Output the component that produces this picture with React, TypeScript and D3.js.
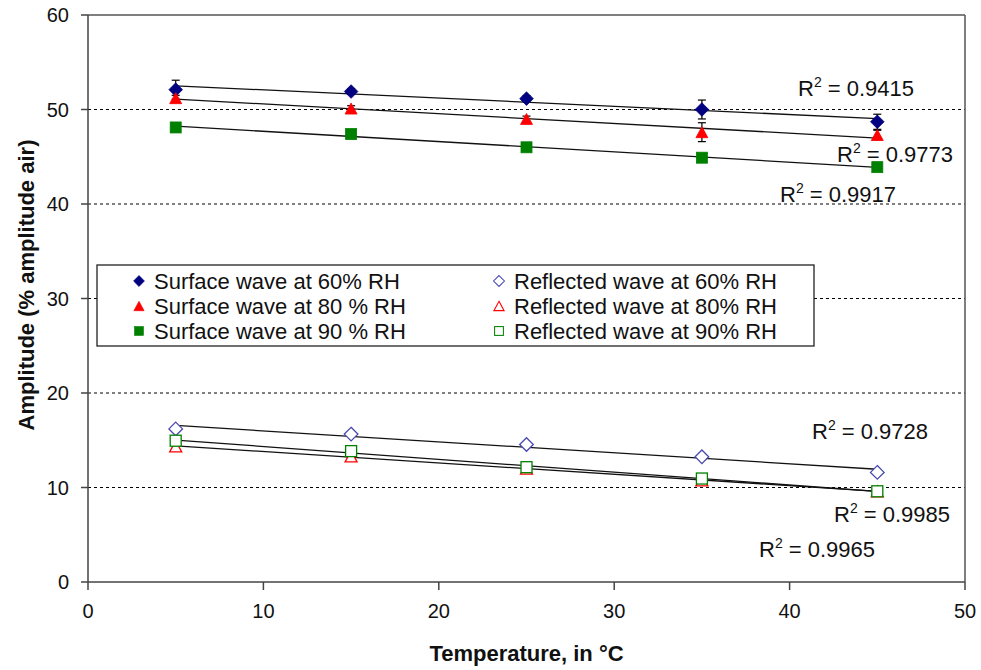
import React from "react";
import * as d3 from "d3";

const temps = [5, 15, 25, 35, 45];
const surface60 = [52.1, 51.9, 51.15, 50.0, 48.7];
const surface60Err = [1.0, 0.3, 0.3, 1.0, 0.8];
const surface80 = [51.2, 50.1, 49.0, 47.6, 47.3];
const surface80Err = [0.3, 0.3, 0.3, 1.0, 0.5];
const surface90 = [48.1, 47.4, 46.0, 44.9, 43.9];
const reflected60 = [16.2, 15.65, 14.55, 13.25, 11.6];
const reflected80 = [14.35, 13.3, 12.0, 10.75, 9.6];
const reflected90 = [14.95, 13.85, 12.15, 10.95, 9.6];
const xTicks = [0, 10, 20, 30, 40, 50];
const yTicks = [0, 10, 20, 30, 40, 50, 60];
const gridTicks = [10, 20, 30, 40, 50];
const r2Labels = ["0.9415", "0.9773", "0.9917", "0.9728", "0.9985", "0.9965"];
const legendLabels = [
  "Surface wave at 60% RH",
  "Surface wave at 80 % RH",
  "Surface wave at 90 % RH",
  "Reflected wave at 60% RH",
  "Reflected wave at 80% RH",
  "Reflected wave at 90% RH",
];

const FONT = "'Liberation Sans', Arial, sans-serif";
const NAVY = "#000080";
const RED = "#ff0000";
const GREEN = "#008000";
const HOLLOW_BLUE = "#4848b0";

type Shape = "diamond" | "triangle" | "square";

function Marker({ x, y, shape, color, filled }: { x: number; y: number; shape: Shape; color: string; filled: boolean }) {
  const fill = filled ? color : "white";
  const sw = filled ? 0.8 : 1.3;
  if (shape === "diamond") {
    const r = 6.8;
    return <path d={`M${x},${y - r}L${x + r},${y}L${x},${y + r}L${x - r},${y}Z`} fill={fill} stroke={color} strokeWidth={sw} />;
  }
  if (shape === "triangle") {
    const h = 11, w = 12;
    return <path d={`M${x},${y - h / 2}L${x + w / 2},${y + h / 2}L${x - w / 2},${y + h / 2}Z`} fill={fill} stroke={color} strokeWidth={sw} />;
  }
  const s = 11;
  return <rect x={x - s / 2} y={y - s / 2} width={s} height={s} fill={fill} stroke={color} strokeWidth={sw} />;
}

function linFit(xs: number[], ys: number[]) {
  const mx = d3.mean(xs)!;
  const my = d3.mean(ys)!;
  let num = 0, den = 0;
  xs.forEach((x, i) => { num += (x - mx) * (ys[i] - my); den += (x - mx) ** 2; });
  const b = num / den;
  const a = my - b * mx;
  return (x: number) => a + b * x;
}

export default function App() {
  const W = 981, H = 670;
  const left = 88, right = 965, top = 15, bottom = 582;
  const x = d3.scaleLinear().domain([0, 50]).range([left, right]);
  const y = d3.scaleLinear().domain([0, 60]).range([bottom, top]);

  const series = [
    { vals: surface60, err: surface60Err, shape: "diamond" as Shape, color: NAVY, filled: true },
    { vals: surface80, err: surface80Err, shape: "triangle" as Shape, color: RED, filled: true },
    { vals: surface90, err: null, shape: "square" as Shape, color: GREEN, filled: true },
    { vals: reflected60, err: null, shape: "diamond" as Shape, color: HOLLOW_BLUE, filled: false },
    { vals: reflected80, err: null, shape: "triangle" as Shape, color: RED, filled: false },
    { vals: reflected90, err: null, shape: "square" as Shape, color: GREEN, filled: false },
  ];

  const line = d3.line<[number, number]>().x(d => x(d[0])).y(d => y(d[1]));

  const r2Pos = [
    [798, 96], [837, 162], [780, 202], [812, 439], [834, 522], [759, 557],
  ];

  const legendX = [97, 814];
  const legendY = [265, 346];
  const colX = [139, 499];
  const rowY = [281, 306, 331];

  return (
    <svg width={W} height={H} style={{ position: "absolute", left: 0, top: 0, background: "white" }} fontFamily={FONT}>
      <rect x={0} y={0} width={W} height={H} fill="white" />
      {gridTicks.map(t => (
        <line key={t} x1={left} x2={right} y1={y(t)} y2={y(t)} stroke="#000" strokeWidth={1} strokeDasharray="3,3" />
      ))}
      <line x1={left} x2={right} y1={top} y2={top} stroke="#555" strokeWidth={1.5} />
      <line x1={right} x2={right} y1={top} y2={bottom} stroke="#555" strokeWidth={1.5} />
      <line x1={left} x2={left} y1={top} y2={bottom} stroke="#444" strokeWidth={1.5} />
      <line x1={left} x2={right} y1={bottom} y2={bottom} stroke="#444" strokeWidth={1.5} />
      {yTicks.map(t => (
        <g key={t}>
          <line x1={left - 7} x2={left} y1={y(t)} y2={y(t)} stroke="#444" strokeWidth={1.5} />
          <text x={left - 19} y={y(t)} dy="0.36em" textAnchor="end" fontSize={20} fill="#111">{t}</text>
        </g>
      ))}
      {xTicks.map(t => (
        <g key={t}>
          <line x1={x(t)} x2={x(t)} y1={bottom} y2={bottom + 8} stroke="#444" strokeWidth={1.5} />
          <text x={x(t)} y={618} textAnchor="middle" fontSize={20} fill="#111">{t}</text>
        </g>
      ))}
      <text x={x(25)} y={661} textAnchor="middle" fontSize={22} fontWeight="bold" fill="#111">Temperature, in °C</text>
      <text transform={`translate(34, 285) rotate(-90)`} textAnchor="middle" fontSize={22} fontWeight="bold" fill="#111">Amplitude (% amplitude air)</text>

      {series.map((s, i) => {
        const f = linFit(temps, s.vals);
        const pts: [number, number][] = [[temps[0], f(temps[0])], [temps[temps.length - 1], f(temps[temps.length - 1])]];
        return <path key={"t" + i} d={line(pts)!} stroke="#111" strokeWidth={1.3} fill="none" />;
      })}

      {series.map((s, i) => s.err ? s.err.map((e, j) => (
        <g key={`e${i}-${j}`} stroke="#000" strokeWidth={1.2}>
          <line x1={x(temps[j])} x2={x(temps[j])} y1={y(s.vals[j] - e)} y2={y(s.vals[j] + e)} />
          <line x1={x(temps[j]) - 4} x2={x(temps[j]) + 4} y1={y(s.vals[j] + e)} y2={y(s.vals[j] + e)} />
          <line x1={x(temps[j]) - 4} x2={x(temps[j]) + 4} y1={y(s.vals[j] - e)} y2={y(s.vals[j] - e)} />
        </g>
      )) : null)}

      {series.map((s, i) => s.vals.map((v, j) => (
        <Marker key={`m${i}-${j}`} x={x(temps[j])} y={y(v)} shape={s.shape} color={s.color} filled={s.filled} />
      )))}

      {r2Labels.map((lab, i) => (
        <text key={lab} x={r2Pos[i][0]} y={r2Pos[i][1]} fontSize={22} fill="#111">
          R<tspan dy={-9} fontSize={14}>2</tspan><tspan dy={9}> = {lab}</tspan>
        </text>
      ))}

      <rect x={legendX[0]} y={legendY[0]} width={legendX[1] - legendX[0]} height={legendY[1] - legendY[0]} fill="white" stroke="#222" strokeWidth={1.3} />
      {legendLabels.map((lab, i) => {
        const col = Math.floor(i / 3), row = i % 3;
        const s = series[i];
        const cx = colX[col], cy = rowY[row];
        const small = { diamond: 0.8, triangle: 0.85, square: 0.8 };
        return (
          <g key={lab}>
            <g transform={`translate(${cx},${cy}) scale(${small[s.shape]}) translate(${-cx},${-cy})`}>
              <Marker x={cx} y={cy} shape={s.shape} color={s.color} filled={s.filled} />
            </g>
            <text x={cx + 15} y={cy} dy="0.36em" fontSize={22} fill="#111">{lab}</text>
          </g>
        );
      })}
    </svg>
  );
}
